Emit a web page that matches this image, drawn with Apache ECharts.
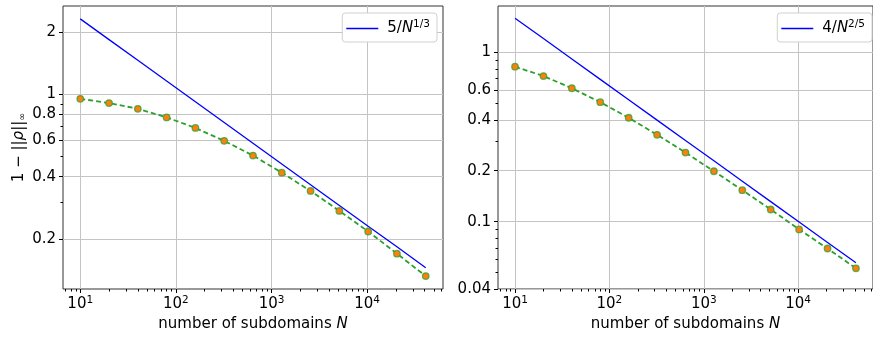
<!DOCTYPE html>
<html>
<head>
<meta charset="utf-8">
<script src="https://cdn.jsdelivr.net/npm/echarts@6.0.0/dist/echarts.min.js"></script>
<style>
  html, body { margin: 0; padding: 0; background: #fff; }
  #chart { width: 873px; height: 337px; }
</style>
</head>
<body>
<div id="chart"></div>
<script>
// number of subdomains N
const subdomains = [10, 20, 40, 80, 160, 320, 640, 1280, 2560, 5120, 10240, 20480, 40960];
// left panel: measured 1 - ||rho||_inf and the 5/N^(1/3) guide
const leftMeasured = [0.952, 0.908, 0.852, 0.774, 0.688, 0.596, 0.506, 0.418, 0.341, 0.273, 0.217, 0.1695, 0.132];
const leftGuide = [2.321, 1.842, 1.462, 1.160, 0.921, 0.731, 0.580, 0.460, 0.365, 0.290, 0.230, 0.183, 0.145];
// right panel: measured values and the 4/N^(2/5) guide
const rightMeasured = [0.823, 0.725, 0.614, 0.508, 0.411, 0.326, 0.256, 0.1985, 0.1535, 0.118, 0.090, 0.0694, 0.053];
const rightGuide = [1.592, 1.207, 0.9145, 0.693, 0.5253, 0.398, 0.3017, 0.2287, 0.1733, 0.1313, 0.0995, 0.0754, 0.0572];

// tick positions
const xMajorTicks = [10, 100, 1000, 10000];
const xMinorTicks = [7, 8, 9, 20, 30, 40, 50, 60, 70, 80, 90, 200, 300, 400, 500, 600, 700, 800, 900,
  2000, 3000, 4000, 5000, 6000, 7000, 8000, 9000, 20000, 30000, 40000, 50000, 60000];
const leftYTicks = [0.2, 0.4, 0.6, 0.8, 1, 2];
const leftYMinor = [0.3, 0.5, 0.7, 0.9];
const rightYTicks = [0.04, 0.1, 0.2, 0.4, 0.6, 1];
const rightYMinor = [0.05, 0.06, 0.07, 0.08, 0.09, 0.3, 0.5, 0.7, 0.8, 0.9];

const legendNames = {
  left: '5/{i|N}{s|1/3}',
  right: '4/{i|N}{s|2/5}'
};

const FONT = 'DejaVu Sans';
const TXT = '#000';
const FS = 15;
const richBase = {
  i: { fontFamily: FONT, fontSize: FS, fontStyle: 'italic', color: TXT },
  s: { fontFamily: FONT, fontSize: 10.5, color: TXT, padding: [0, 0, 8, 0] },
  sub: { fontFamily: FONT, fontSize: 9.5, color: TXT, padding: [7, 0, 0, 0] }
};

const pairs = (ys) => subdomains.map((n, k) => [n, ys[k]]);

function xAxes(gridIndex) {
  return [{
    type: 'log', gridIndex: gridIndex, min: 6.6, max: 62090, position: 'bottom',
    axisLine: { show: false },
    axisTick: { show: true, length: 4, customValues: xMajorTicks, lineStyle: { color: '#000', width: 1 } },
    axisLabel: {
      customValues: xMajorTicks, margin: 6,
      fontFamily: FONT, fontSize: FS, color: TXT,
      formatter: (v) => '10{s|' + Math.round(Math.log10(v)) + '}',
      rich: richBase
    },
    splitLine: { show: true, lineStyle: { color: '#c4c4c4', width: 1 } },
    name: 'number of subdomains {i|N}', nameLocation: 'middle', nameGap: 24,
    nameTextStyle: { fontFamily: FONT, fontSize: FS, color: TXT, rich: richBase }
  }, {
    type: 'log', gridIndex: gridIndex, min: 6.6, max: 62090, position: 'bottom',
    axisLine: { show: false },
    axisTick: { show: true, length: 2.5, customValues: xMinorTicks, lineStyle: { color: '#000', width: 1 } },
    axisLabel: { show: false },
    splitLine: { show: false }
  }];
}

function yAxes(gridIndex, min, max, major, minor, withName) {
  const main = {
    type: 'log', gridIndex: gridIndex, min: min, max: max, position: 'left',
    axisLine: { show: false },
    axisTick: { show: true, length: 4, customValues: major, lineStyle: { color: '#000', width: 1 } },
    axisLabel: {
      customValues: major, margin: 7,
      fontFamily: FONT, fontSize: FS, color: TXT,
      formatter: (v) => String(+(+v).toPrecision(6))
    },
    splitLine: { show: true, lineStyle: { color: '#c4c4c4', width: 1 } }
  };
  if (withName) {
    main.name = '1 \u2212 ||{i|\u03c1}||{sub|\u221e}';
    main.nameLocation = 'middle';
    main.nameGap = 35;
    main.nameTextStyle = { fontFamily: FONT, fontSize: FS, color: TXT, rich: richBase };
  }
  return [main, {
    type: 'log', gridIndex: gridIndex, min: min, max: max, position: 'left',
    axisLine: { show: false },
    axisTick: { show: true, length: 2.5, customValues: minor, lineStyle: { color: '#000', width: 1 } },
    axisLabel: { show: false },
    splitLine: { show: false }
  }];
}

function legendBox(seriesName, right) {
  return {
    data: [seriesName], right: right, top: 13, orient: 'vertical',
    backgroundColor: '#fff', borderColor: '#d0d0d0', borderWidth: 1, borderRadius: 3,
    padding: [6, 7, 6, 4], icon: 'rect', itemWidth: 32, itemHeight: 1.5,
    formatter: (name) => legendNames[name],
    textStyle: { fontFamily: FONT, fontSize: FS, color: TXT, padding: [0, 0, 0, 4], rich: richBase }
  };
}

function guideSeries(name, xi, yi, ys) {
  return {
    name: name, type: 'line', xAxisIndex: xi, yAxisIndex: yi, data: pairs(ys),
    symbol: 'none', lineStyle: { color: '#0000ff', width: 1.3 }, itemStyle: { color: '#0000ff' }, z: 3
  };
}

function measuredSeries(name, xi, yi, ys) {
  return {
    name: name, type: 'line', xAxisIndex: xi, yAxisIndex: yi, data: pairs(ys),
    symbol: 'circle', symbolSize: 6.5, showSymbol: true,
    lineStyle: { color: '#2ca02c', width: 1.8, type: [5, 3] },
    itemStyle: { color: '#ff7f0e', borderColor: 'rgba(44,160,44,0.75)', borderWidth: 1.3 },
    z: 4
  };
}

const chart = echarts.init(document.getElementById('chart'), null, { renderer: 'canvas' });
chart.setOption({
  animation: false,
  grid: [
    { left: 63, top: 6, width: 380, height: 283, show: true, borderColor: '#333', borderWidth: 1, backgroundColor: 'transparent' },
    { left: 498, top: 6, width: 380, height: 283, show: true, borderColor: '#333', borderWidth: 1, backgroundColor: 'transparent' }
  ],
  xAxis: [...xAxes(0), ...xAxes(1)],
  yAxis: [
    ...yAxes(0, 0.1143, 2.679, leftYTicks, leftYMinor, true),
    ...yAxes(1, 0.04, 1.88, rightYTicks, rightYMinor, false)
  ],
  legend: [legendBox('left', 436), legendBox('right', 1)],
  series: [
    guideSeries('left', 0, 0, leftGuide),
    measuredSeries('leftMeasured', 0, 0, leftMeasured),
    guideSeries('right', 2, 2, rightGuide),
    measuredSeries('rightMeasured', 2, 2, rightMeasured)
  ]
});
</script>
</body>
</html>
